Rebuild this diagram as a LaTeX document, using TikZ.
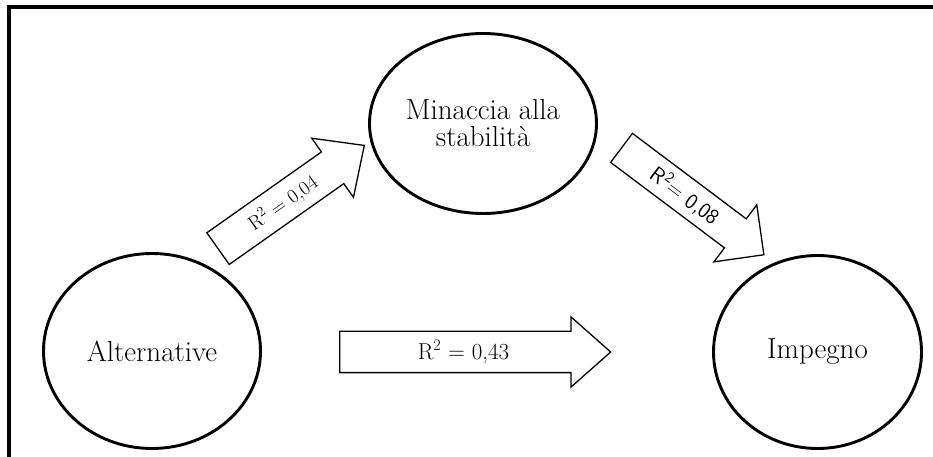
\documentclass[tikz,border=0pt]{standalone}
\usepackage{tikz}
\usetikzlibrary{shapes.geometric,shapes.arrows}

\begin{document}
\begin{tikzpicture}[x=1pt, y=1pt]
	\tikzstyle{oval} = [draw, ellipse, line width=2.9pt, inner sep=0pt, align=center, font=\fontsize{29}{27}\selectfont]
	\tikzstyle{bigarrow} = [draw, single arrow, line width=1.3pt, inner xsep=0pt, inner ysep=0pt, anchor=tail]
	\useasboundingbox (0,0) rectangle (933,457);
	% frame, top and left side only
	\draw[line width=4pt] (9,0) -- (9,449.5) -- (933,449.5);
	\begin{scope}
	  \path
	  node[oval, minimum width=217pt, minimum height=195pt] (alt) at (152,106) {Alternative}
	  node[oval, minimum width=227pt, minimum height=180pt] (threat) at (483,333.5) {Minaccia alla\\stabilità}
	  node[oval, minimum width=208pt, minimum height=193pt] (commit) at (817.5,105) {Impegno}
	  ;
	  % block arrows with the R^2 values
	  \path
	  node[bigarrow, rotate=35.2, minimum height=179pt, single arrow head extend=16.75pt, single arrow tip angle=86,
	       text height=25.75pt, text depth=11.75pt, font=\fontsize{20}{22}\selectfont] (altthreat) at (217.5,208) {R\textsuperscript{2} = 0,04}
	  node[bigarrow, rotate=-36.9, minimum height=178pt, single arrow head extend=17.5pt, single arrow tip angle=90,
	       text height=25.1pt, text depth=9.9pt, font=\sffamily\fontsize{21.8}{24}\selectfont] (threatcommit) at (621,309.5) {R\textsuperscript{2}= 0,08}
	  node[bigarrow, minimum height=271pt, single arrow head extend=14.5pt, single arrow tip angle=83,
	       text height=28pt, text depth=12pt, font=\fontsize{23}{26}\selectfont] (altcommit) at (339,105) {R\textsuperscript{2} = 0,43}
	  ;
	\end{scope}
\end{tikzpicture}
\end{document}
